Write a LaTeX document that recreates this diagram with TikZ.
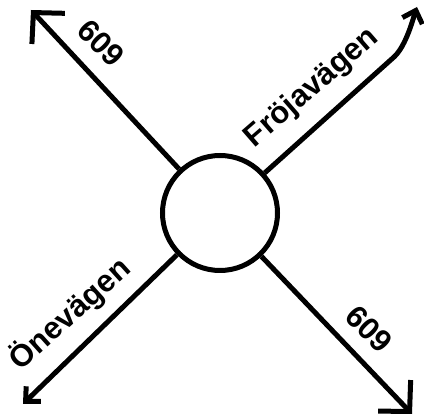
\documentclass[tikz,border=0pt]{standalone}
\usepackage{fontspec}
\setmainfont{Liberation Sans}
\usetikzlibrary{arrows.meta}
\begin{document}
\begin{tikzpicture}[x=1pt,y=-1pt,
  road/.style={draw, line width=5pt},
  bigtip/.style={road, -{Straight Barb[length=22pt,width=45pt,sharp]}},
  smalltip/.style={road, -{Straight Barb[length=11pt,width=21pt,sharp]}},
  lbl/.style={font=\bfseries\fontsize{31}{31}\selectfont, inner sep=0pt}]
\useasboundingbox (0,0) rectangle (424,419);
\node[circle, draw, line width=5pt, minimum size=115pt, inner sep=0pt] (c) at (220,213) {};
\coordinate (tl) at (31,10);
\coordinate (bl) at (23,404);
\coordinate (br) at (412,414);
\coordinate (tr) at (417,7);
\coordinate (trb) at (394,57);
\draw[bigtip] (c) -- (tl);
\draw[smalltip] (c) -- (bl);
\draw[bigtip] (c) -- (br);
\draw[smalltip] (c) -- (trb) .. controls (406,46) and (413,19) .. (tr);
\node[lbl, rotate=-45] (n1) at (101,43) {609};
\node[lbl, rotate=-45] (n2) at (369,329) {609};
\node[lbl, rotate=41] (n3) at (312,88) {Fröjavägen};
\node[lbl, rotate=42] (n4) at (70,314) {Önevägen};
\end{tikzpicture}
\end{document}
